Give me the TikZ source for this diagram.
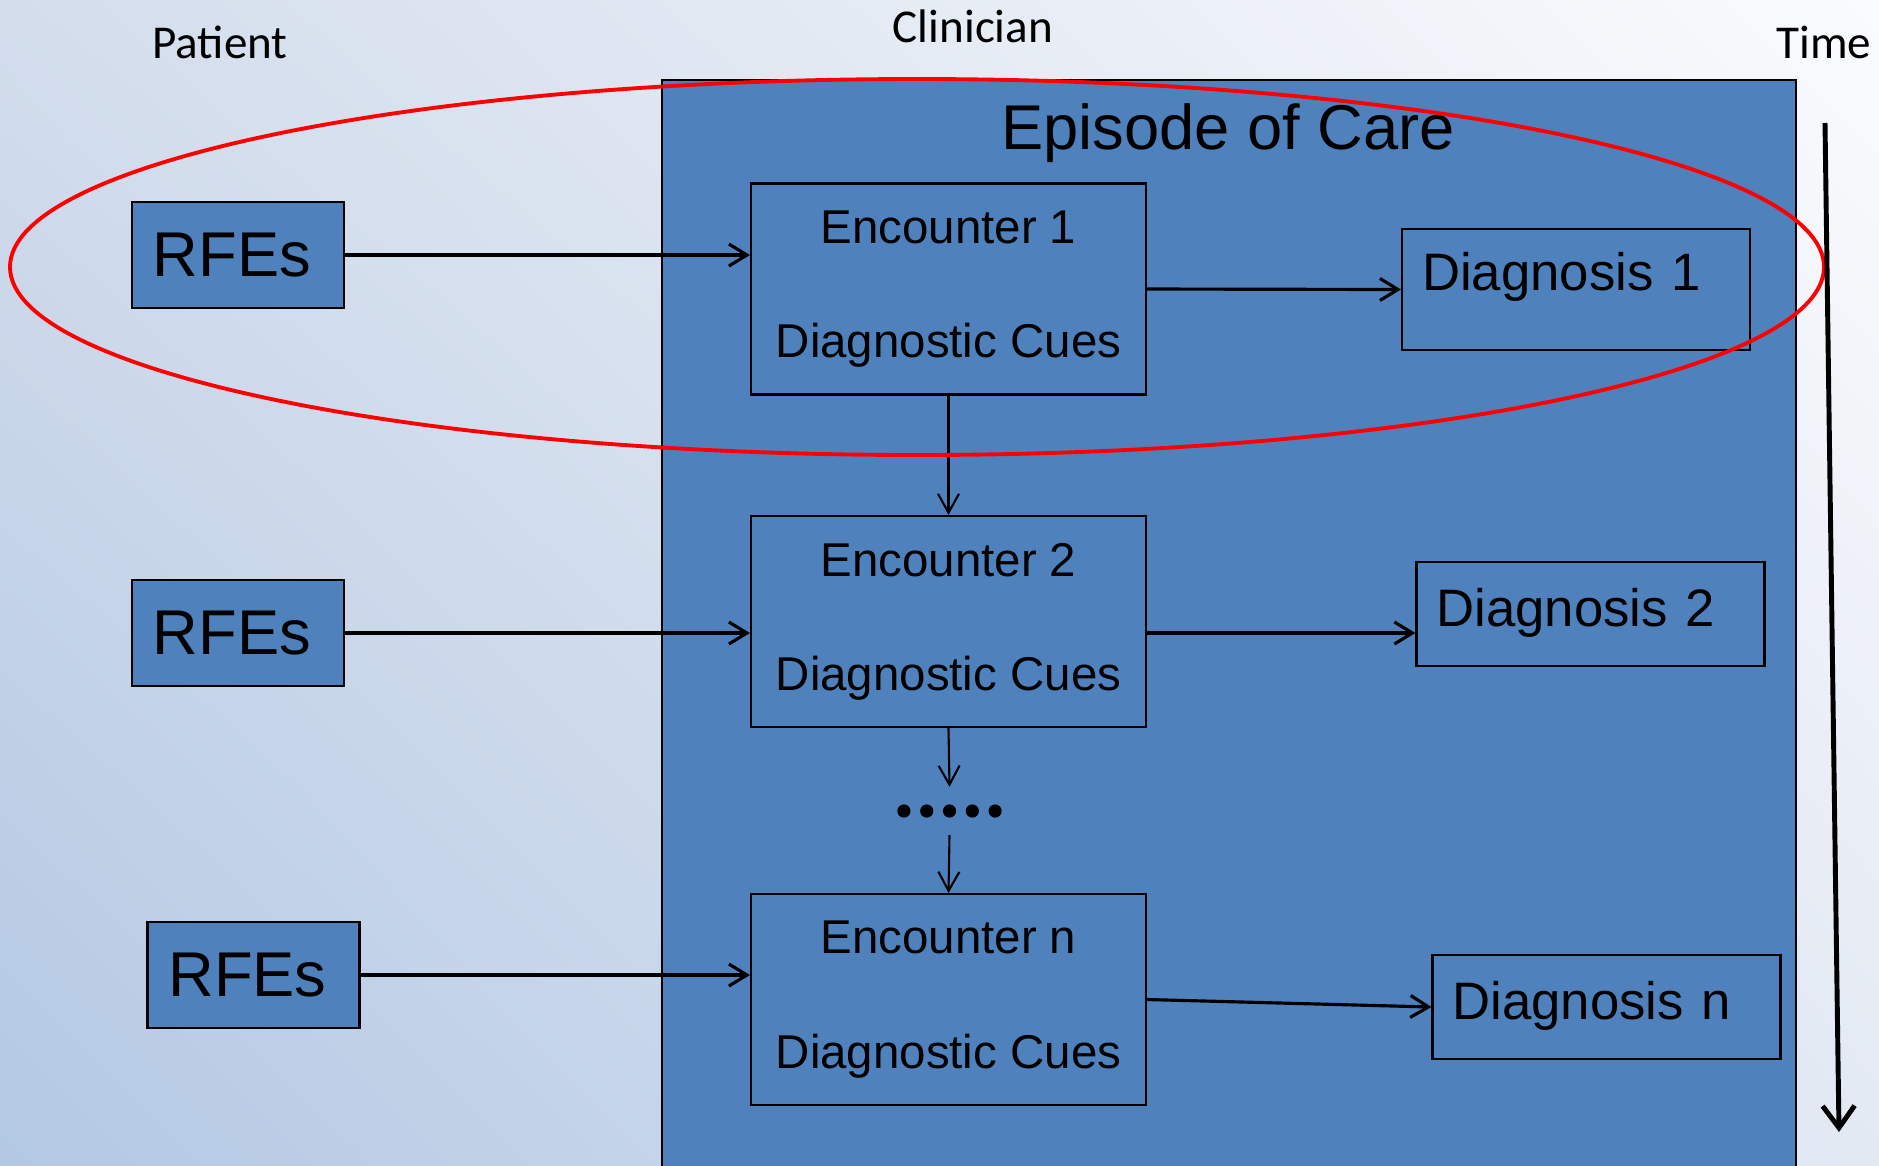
\documentclass[tikz,border=0pt]{standalone}
\usepackage{fontspec}
\setmainfont{Liberation Sans}
\newfontfamily\labelfont{Carlito}
\usetikzlibrary{arrows.meta,shadings}
\definecolor{boxblue}{HTML}{4F81BD}
\definecolor{bgul}{HTML}{D3DDEC}
\definecolor{bgur}{HTML}{FAFBFD}
\definecolor{bgll}{HTML}{B3C8E3}
\definecolor{bglr}{HTML}{E3E9F3}
\definecolor{ovalred}{HTML}{FF0000}

\begin{document}
\begin{tikzpicture}[x=1cm,y=-1cm,
  box/.style={draw,fill=boxblue,line width=0.6pt,inner sep=0pt},
  rfe/.style={box,minimum width=2.12cm,minimum height=1.06cm,font=\fontsize{18pt}{20pt}\selectfont},
  enc/.style={box,minimum width=3.95cm,minimum height=2.11cm,align=center,font=\fontsize{13.5pt}{32.5pt}\selectfont},
  diag/.style={box,minimum height=1.04cm,text width=3.08cm,inner xsep=0.2cm,align=left,text depth=0.14cm,font=\fontsize{15pt}{18pt}\selectfont},
  lbl/.style={font=\labelfont\fontsize{13.4pt}{16pt}\selectfont},
  flow/.style={-{Straight Barb[length=1.8mm,width=2.2mm]},line width=0.9pt},
  down/.style={-{Straight Barb[length=1.9mm,width=2.1mm]},line width=0.6pt}
]
\clip (0,0) rectangle (18.79,11.65);
\shade[upper left=bgul,upper right=bgur,lower left=bgll,lower right=bglr] (0,0) rectangle (18.79,11.65);

\node[box,minimum width=11.34cm,minimum height=11.2cm,anchor=north west] (episode) at (6.61,0.79) {};
\node[font=\fontsize{18pt}{20pt}\selectfont] (eptitle) at (12.28,1.33) {Episode of Care};

\node[rfe] (rfe1) at (2.38,2.55) {RFEs\kern0.12cm};
\node[rfe] (rfe2) at (2.38,6.33) {RFEs\kern0.12cm};
\node[rfe] (rfe3) at (2.535,9.75) {RFEs\kern0.12cm};

\node[enc] (enc1) at (9.485,2.89) {Encounter 1\\Diagnostic Cues};
\node[enc] (enc2) at (9.485,6.215) {Encounter 2\\Diagnostic Cues};
\node[enc] (encn) at (9.485,9.995) {Encounter n\\Diagnostic Cues};

\node[diag,minimum height=1.21cm,text depth=0.36cm] (diag1) at (15.76,2.895) {Diagnosis 1};
\node[diag] (diag2) at (15.905,6.14) {Diagnosis 2};
\node[diag] (diagn) at (16.065,10.07) {Diagnosis n};

\node[minimum width=1.0cm,minimum height=0.47cm,inner sep=0pt] (dots) at (9.495,8.11) {};
\foreach \i in {-2,...,2}
  \fill (dots.center) ++(\i*0.228,0) circle (0.066);

\draw[flow] (rfe1.east) -- (rfe1.east -| enc1.west);
\draw[flow] (rfe2.east) -- (rfe2.east -| enc2.west);
\draw[flow] (rfe3.east) -- (rfe3.east -| encn.west);
\draw[flow] (enc1.east) -- (diag1.west);
\draw[flow] (enc2.east |- rfe2.east) -- (diag2.west |- rfe2.east);
\draw[flow] (encn.east) -- (diagn.west);

\draw[down] (enc1.south) -- (enc2.north);
\draw[down] (enc2.south) -- (dots.north);
\draw[down] (dots.south) -- (encn.north);

\draw[ovalred,line width=1.1pt] (9.17,2.67) ellipse [x radius=9.07cm,y radius=1.88cm];

\coordinate (tstart) at (18.25,1.23);
\coordinate (tend) at (18.39,11.32);
\draw[line width=1.4pt,-{Straight Barb[length=2.2mm,width=3.2mm]}] (tstart) -- (tend);

\node[lbl] (patient) at (2.20,0.42) {Patient};
\node[lbl] (clinician) at (9.73,0.26) {Clinician};
\node[lbl] (time) at (18.24,0.42) {Time};
\end{tikzpicture}
\end{document}
